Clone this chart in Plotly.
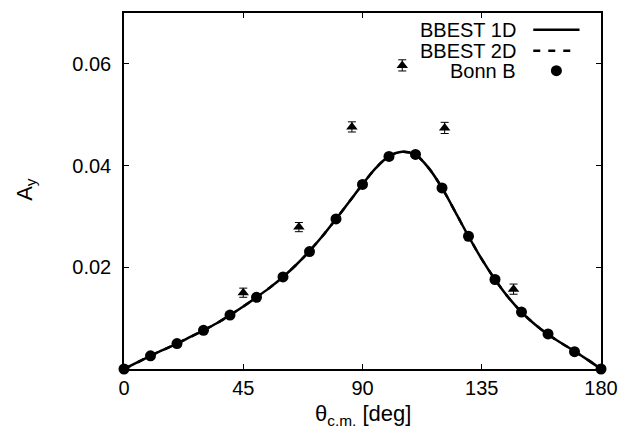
import plotly.graph_objects as go

# ---- data ----
bonn_theta = [0, 10, 20, 30, 40, 50, 60, 70, 80, 90, 100, 110, 120, 130, 140, 150, 160, 170, 180]
bonn_ay = [0.0, 0.0026, 0.0050, 0.0076, 0.0106, 0.0141, 0.0181, 0.0231, 0.0295, 0.0363,
           0.0418, 0.0422, 0.0356, 0.0261, 0.0176, 0.0112, 0.0069, 0.0034, 0.0]

curve_theta = [0, 5, 10, 15, 20, 25, 30, 35, 40, 45, 50, 55, 60, 65, 70, 75, 80, 85, 90,
               95, 100, 105, 110, 115, 120, 125, 130, 135, 140, 145, 150, 155, 160, 165, 170, 175, 180]
bbest1d_ay = [0.0, 0.0013, 0.0026, 0.0038, 0.0050, 0.0063, 0.0076, 0.0090, 0.0106, 0.0123,
              0.0141, 0.0160, 0.0181, 0.0205, 0.0232, 0.0262, 0.0295, 0.0329, 0.0363,
              0.0395, 0.0418, 0.0427, 0.0421, 0.0395, 0.0356, 0.0309, 0.0261, 0.0216,
              0.0176, 0.0141, 0.0112, 0.0088, 0.0068, 0.0051, 0.0035, 0.0018, 0.0]
bbest2d_ay = [0.0, 0.0013, 0.0026, 0.0038, 0.0050, 0.0063, 0.0076, 0.0090, 0.0106, 0.0123,
              0.0141, 0.0160, 0.0181, 0.0205, 0.0232, 0.0262, 0.0295, 0.0329, 0.0363,
              0.0395, 0.0418, 0.0427, 0.0421, 0.0395, 0.0356, 0.0309, 0.0261, 0.0216,
              0.0176, 0.0141, 0.0112, 0.0088, 0.0068, 0.0051, 0.0035, 0.0018, 0.0]

exp_theta = [45, 66, 86, 105, 121, 147]
exp_ay = [0.0150, 0.0279, 0.0476, 0.0597, 0.0474, 0.0157]
exp_err = [0.0009, 0.0009, 0.0010, 0.0011, 0.0011, 0.0010]

x_ticks = [0, 45, 90, 135, 180]
y_ticks = [0.02, 0.04, 0.06]
y_tick_text = ["0.02", "0.04", "0.06"]

legend_labels = ["BBEST 1D", "BBEST 2D", "Bonn B"]

FONT = "Liberation Sans, Arial, Helvetica, sans-serif"

fig = go.Figure()

fig.add_trace(go.Scatter(x=curve_theta, y=bbest2d_ay, mode="lines", line_shape="spline",
                         line=dict(color="black", width=2.5, dash="7px,8px"),
                         name=legend_labels[1], showlegend=False, cliponaxis=False))
fig.add_trace(go.Scatter(x=curve_theta, y=bbest1d_ay, mode="lines", line_shape="spline",
                         line=dict(color="black", width=2.5),
                         name=legend_labels[0], showlegend=False, cliponaxis=False))
fig.add_trace(go.Scatter(x=bonn_theta, y=bonn_ay, mode="markers",
                         marker=dict(symbol="circle", size=11, color="black"),
                         name=legend_labels[2], showlegend=False, cliponaxis=False))
fig.add_trace(go.Scatter(x=exp_theta, y=exp_ay, mode="markers",
                         marker=dict(symbol="triangle-up", size=10, color="black"),
                         error_y=dict(type="data", array=exp_err, visible=True,
                                      color="black", thickness=1, width=4),
                         showlegend=False, cliponaxis=False))

# manual gnuplot-style legend (text right-aligned, sample to the right)
leg_y = [0.953, 0.894, 0.838]
for lab, yy in zip(legend_labels, leg_y):
    fig.add_annotation(x=0.826, y=yy, xref="paper", yref="paper", text=lab,
                       showarrow=False, xanchor="right", yanchor="middle",
                       font=dict(family=FONT, size=20, color="black"))
fig.add_shape(type="line", xref="paper", yref="paper", x0=0.858, x1=0.955,
              y0=leg_y[0], y1=leg_y[0], line=dict(color="black", width=2.5))
fig.add_shape(type="line", xref="paper", yref="paper", x0=0.858, x1=0.936,
              y0=leg_y[1], y1=leg_y[1], line=dict(color="black", width=2.5, dash="7px,8px"))
fig.add_shape(type="circle", xref="paper", yref="paper", xsizemode="pixel", ysizemode="pixel",
              xanchor=0.9065, yanchor=leg_y[2], x0=-5.5, x1=5.5, y0=-5.5, y1=5.5,
              fillcolor="black", line=dict(color="black", width=0))

# axis titles
fig.add_annotation(x=0.5, y=-0.13, xref="paper", yref="paper",
                   text="θ<sub>c.m.</sub> [deg]", showarrow=False,
                   xanchor="center", yanchor="middle",
                   font=dict(family=FONT, size=22, color="black"))
fig.add_annotation(x=-0.207, y=0.504, xref="paper", yref="paper",
                   text="A<sub>y</sub>", showarrow=False, textangle=-90,
                   xanchor="center", yanchor="middle",
                   font=dict(family=FONT, size=22, color="black"))

fig.update_layout(
    width=632, height=436,
    margin=dict(l=124, r=31, t=13, b=67),
    paper_bgcolor="white", plot_bgcolor="white",
    font=dict(family=FONT, size=20, color="black"),
    showlegend=False,
)
fig.update_xaxes(range=[0, 180], tickvals=x_ticks, ticktext=[str(v) for v in x_ticks],
                 ticks="inside", ticklen=5, tickwidth=1.2, tickcolor="black",
                 showline=True, linecolor="black", linewidth=1.5, mirror="ticks",
                 showgrid=False, zeroline=False, ticklabelstandoff=0,
                 tickfont=dict(family=FONT, size=20, color="black"))
fig.update_yaxes(range=[0, 0.07], tickvals=y_ticks, ticktext=y_tick_text,
                 ticks="inside", ticklen=5, tickwidth=1.2, tickcolor="black",
                 showline=True, linecolor="black", linewidth=1.5, mirror="ticks",
                 showgrid=False, zeroline=False, ticklabelstandoff=7,
                 tickfont=dict(family=FONT, size=20, color="black"))

fig.write_html("out.html", config={"displayModeBar": False},
               post_script="document.body.style.margin='0';document.body.style.padding='0';")
